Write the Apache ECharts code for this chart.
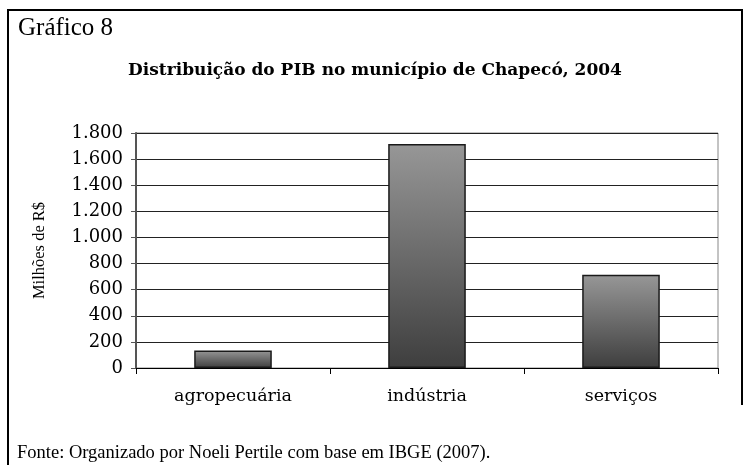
<!DOCTYPE html>
<html>
<head>
<meta charset="utf-8">
<script src="https://cdn.jsdelivr.net/npm/echarts@6/dist/echarts.min.js"></script>
<style>
  html, body { margin: 0; padding: 0; background: #fff; }
  #chart { width: 750px; height: 465px; }
</style>
</head>
<body>
<div id="chart"></div>
<script>
// dados do gráfico
const setores = ['agropecuária', 'indústria', 'serviços'];
const pib = [135, 1715, 715];
const yMax = 1800;
const yStep = 200;

const chart = echarts.init(document.getElementById('chart'));

// formata 1800 -> 1.800
const fmt = v => String(v).replace(/\B(?=(\d{3})+(?!\d))/g, '.');

const option = {
  backgroundColor: '#fff',
  animation: false,
  title: [
    {
      text: 'Gráfico 8',
      left: 13, top: 11,
      textStyle: { fontFamily: 'Liberation Serif', fontSize: 25, fontWeight: 'normal', color: '#000' }
    },
    {
      text: 'Distribuição do PIB no município de Chapecó, 2004',
      left: 'center', top: 57,
      textStyle: { fontFamily: 'DejaVu Serif', fontSize: 17, fontWeight: 'bold', color: '#000' }
    },
    {
      text: 'Fonte: Organizado por Noeli Pertile com base em IBGE (2007).',
      left: 12, top: 439,
      textStyle: { fontFamily: 'Liberation Serif', fontSize: 18.5, fontWeight: 'normal', color: '#000' }
    }
  ],
  graphic: [
    {
      type: 'polyline',
      shape: { points: [[8, 470], [8, 10], [742, 10], [742, 405]] },
      style: { stroke: '#000', lineWidth: 2, fill: null },
      silent: true
    }
  ],
  grid: {
    left: 136, right: 32, top: 133, bottom: 97,
    show: true, borderColor: '#888', borderWidth: 1
  },
  xAxis: {
    type: 'category',
    data: setores,
    axisLine: { lineStyle: { color: '#000', width: 1 } },
    axisTick: { show: true, length: 6, lineStyle: { color: '#000' } },
    axisLabel: {
      margin: 19,
      fontFamily: 'DejaVu Serif', fontSize: 17.5, color: '#000'
    }
  },
  yAxis: {
    type: 'value',
    min: 0, max: yMax, interval: yStep,
    name: 'Milhões de R$',
    nameLocation: 'middle',
    nameGap: 88,
    nameTextStyle: { fontFamily: 'Liberation Serif', fontSize: 16.5, color: '#000' },
    axisLine: { show: true, lineStyle: { color: '#555', width: 2 } },
    axisTick: { show: true, length: 5, lineStyle: { color: '#555' } },
    axisLabel: {
      margin: 13,
      fontFamily: 'DejaVu Serif', fontSize: 18, color: '#000',
      formatter: v => fmt(v)
    },
    splitLine: { show: true, lineStyle: { color: '#222', width: 1 } }
  },
  series: [
    {
      type: 'bar',
      data: pib,
      barWidth: '40%',
      itemStyle: {
        color: new echarts.graphic.LinearGradient(0, 0, 0, 1, [
          { offset: 0, color: '#979797' },
          { offset: 1, color: '#3e3e3e' }
        ]),
        borderColor: '#1a1a1a',
        borderWidth: 1.5
      }
    }
  ]
};

chart.setOption(option);
</script>
</body>
</html>
